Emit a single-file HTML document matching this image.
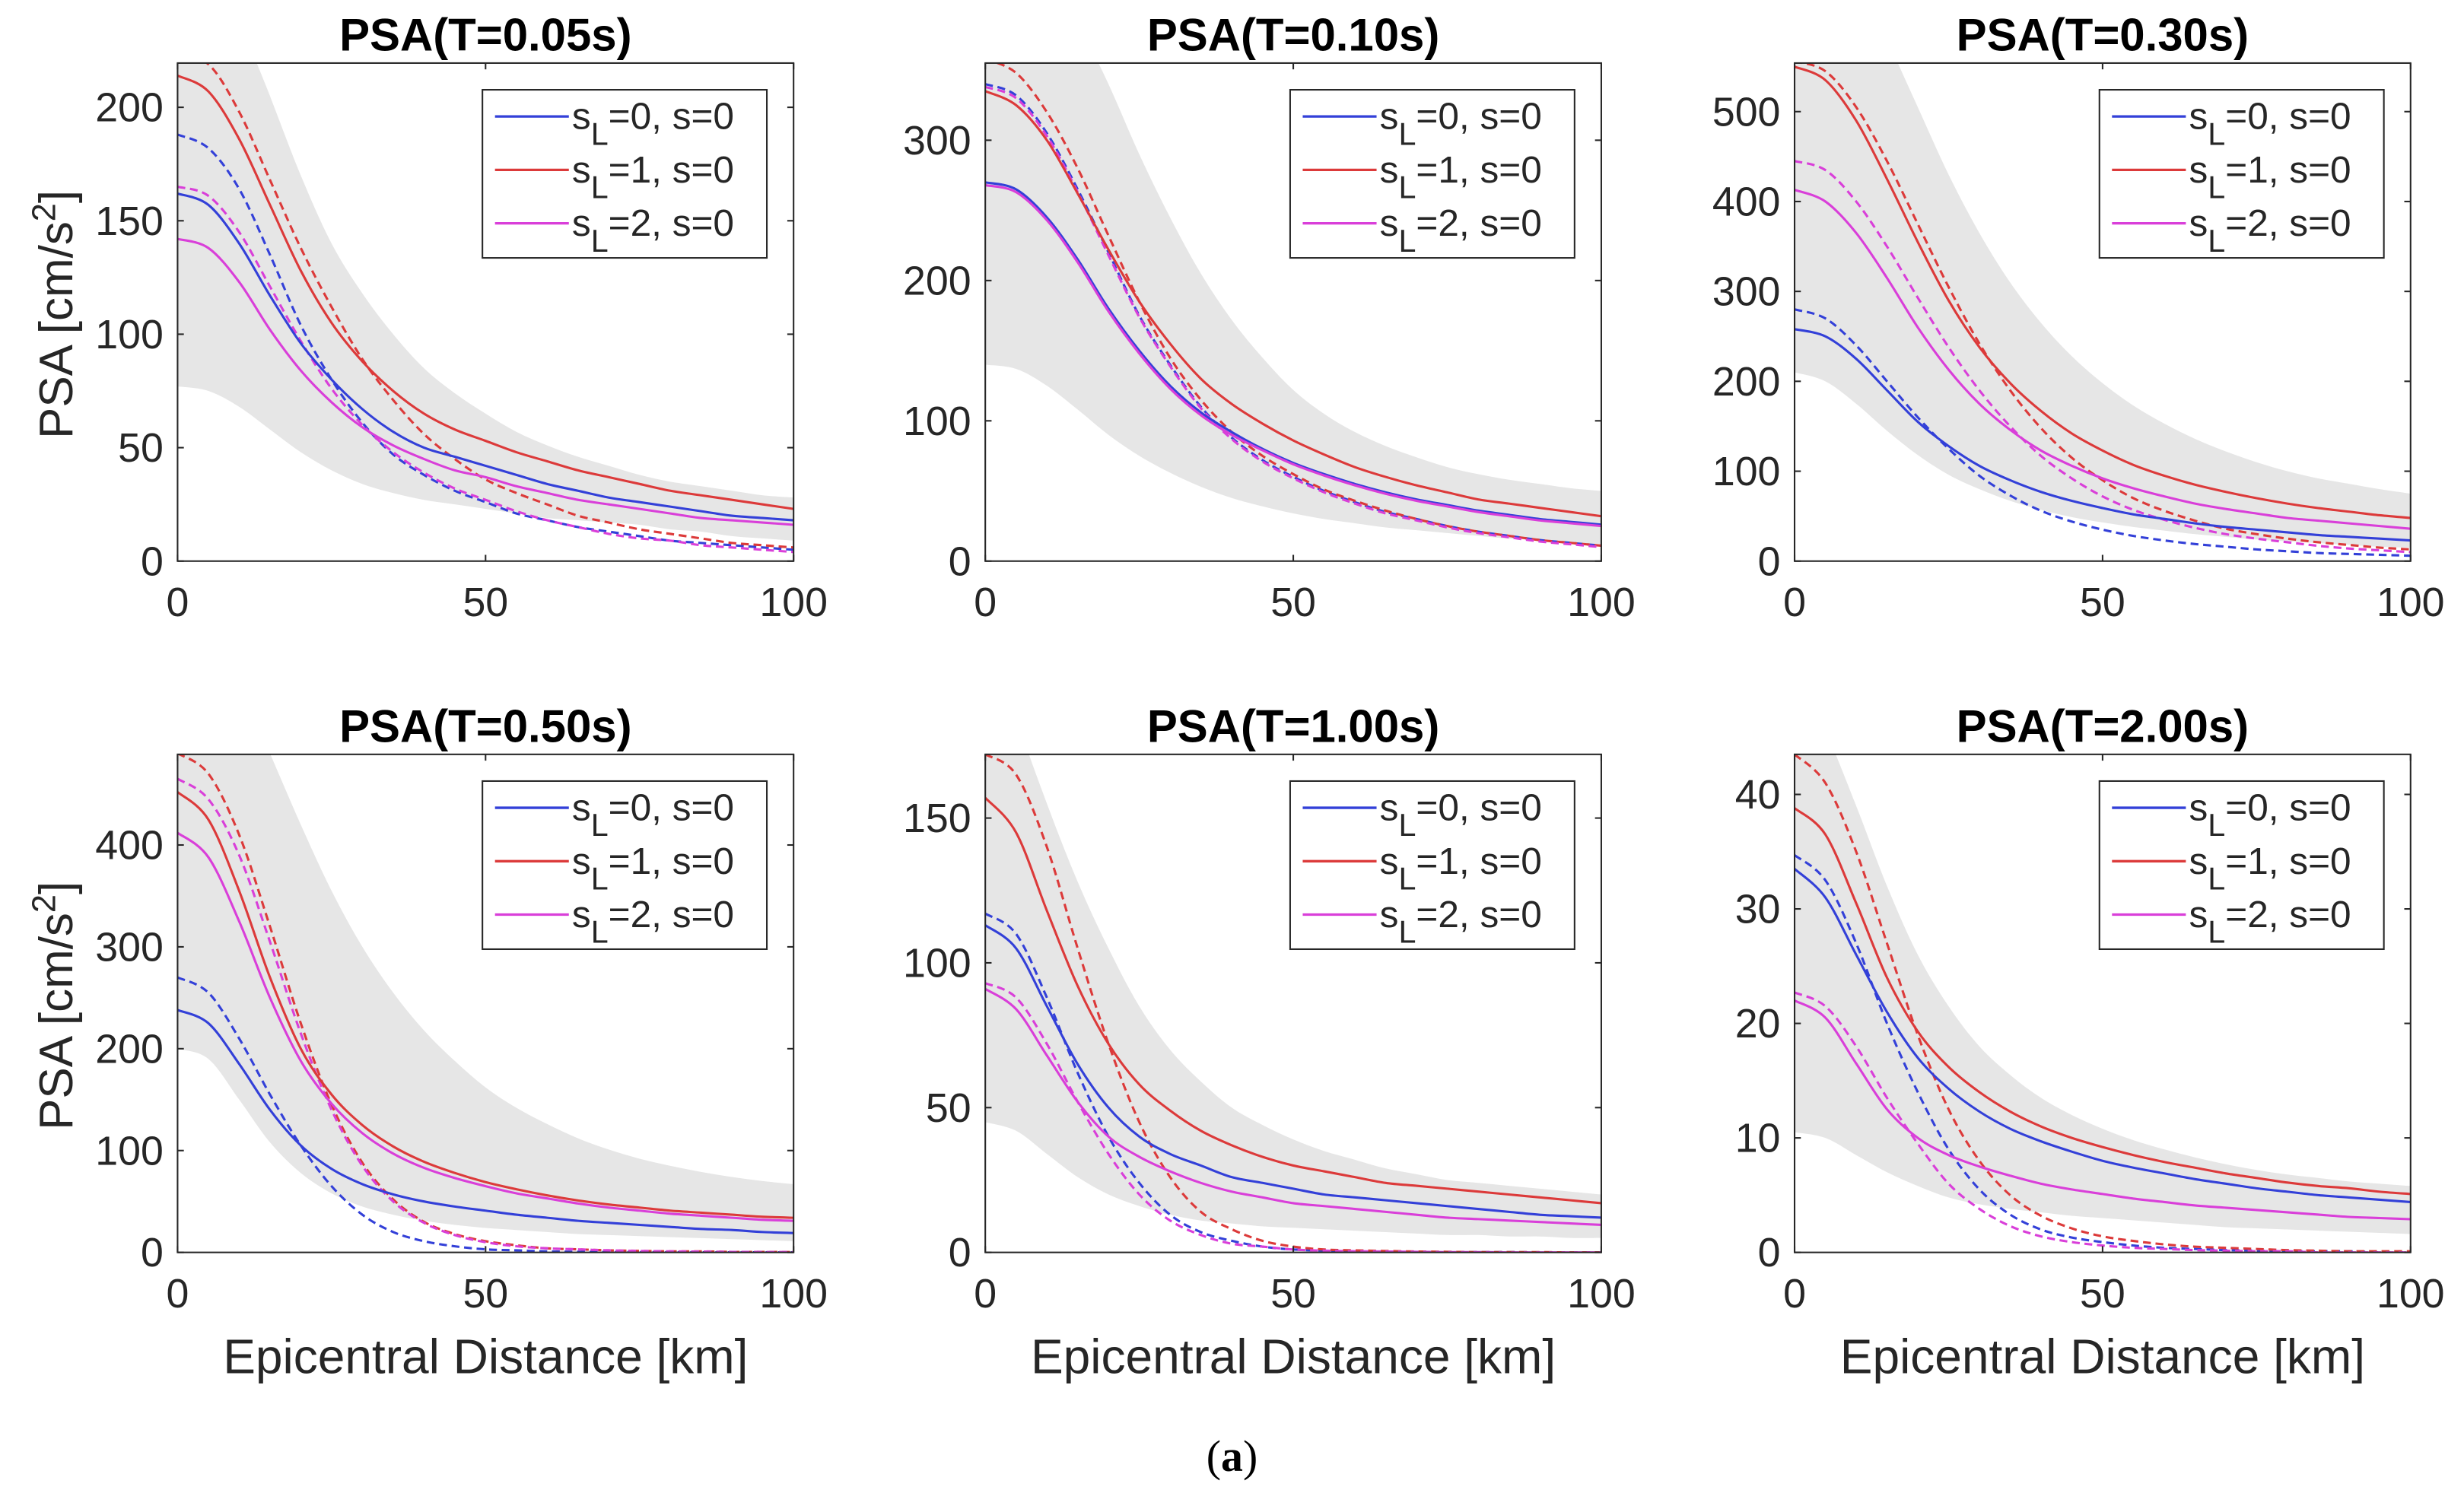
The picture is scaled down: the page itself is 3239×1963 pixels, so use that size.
<!DOCTYPE html>
<html><head><meta charset="utf-8"><style>
html,body{margin:0;padding:0;background:#fff}
svg{display:block}
text{font-family:"Liberation Sans",Arial,sans-serif;fill:#262626}
</style></head><body>
<svg id="fig" width="3239" height="1963" viewBox="0 0 1568 950" xmlns="http://www.w3.org/2000/svg">
<rect width="1568" height="950" fill="#fff"/>
<text x="784" y="936" text-anchor="middle" style="font-family:'Liberation Serif',serif;font-size:28px;fill:#000">(<tspan font-weight="bold">a</tspan>)</text>
</svg>
<script>
const xs = [0,5,10,15,20,25,30,35,40,45,50,55,60,65,70,75,80,85,90,95,100];
const xTicks = [0,50,100];
const titles = ["PSA(T=0.05s)","PSA(T=0.10s)","PSA(T=0.30s)","PSA(T=0.50s)","PSA(T=1.00s)","PSA(T=2.00s)"];
const yMaxes = [219.5,355,554,489,172,43.5];
const yTicks1 = [0,50,100,150,200];
const yTicks2 = [0,100,200,300];
const yTicks3 = [0,100,200,300,400,500];
const yTicks4 = [0,100,200,300,400];
const yTicks5 = [0,50,100,150];
const yTicks6 = [0,10,20,30,40];
const legendLabels = ["=0, s=0","=1, s=0","=2, s=0"];

// Panel 1 T=0.05s
const p1BandUpper = [320,285,240,205,170,140,118,100,85,74,65,57,51,46,42,38,35,33,31,29,28];
const p1BandLower = [77,75,68,58,48,40,34,30,27,25,23,21,19,18,17,16,14,13,11,10,9];
const p1BlueSolid = [162,157,140,117,96,80,67,57,50,46,42,38,34,31,28,26,24,22,20,19,18];
const p1RedSolid = [214,207,186,157,128,105,88,75,65,58,53,48,44,40,37,34,31,29,27,25,23];
const p1MagSolid = [142,138,123,102,84,70,59,51,45,40,37,33,30,27,25,23,21,19,18,17,16];
const p1BlueDash = [188,182,164,135,104,80,61,47,38,31,26,21,18,15,13,11,9,8,7,6,5];
const p1RedDash = [222,219,198,168,138,112,89,71,56,45,36,30,25,20,17,14,12,10,8,7,6];
const p1MagDash = [165,161,145,121,97,76,60,48,39,32,27,22,18,15,12,10,9,7,6,5,4];
// Panel 2 T=0.10s
const p2BandUpper = [520,480,430,385,340,290,245,205,172,145,122,105,92,82,74,67,62,58,55,52,50];
const p2BandLower = [140,137,125,108,90,75,63,53,45,39,34,30,27,24,22,20,18,16,15,13,12];
const p2BlueSolid = [270,265,245,215,180,150,125,106,92,80,70,62,55,49,44,40,36,33,30,28,26];
const p2RedSolid = [335,325,300,262,222,185,155,130,112,98,86,76,67,60,54,49,44,41,38,35,32];
const p2MagSolid = [268,263,243,213,178,148,123,104,90,79,69,61,54,48,43,39,35,32,29,27,25];
const p2BlueDash = [340,332,305,265,220,175,140,110,88,72,60,50,42,35,30,25,21,18,15,13,11];
const p2RedDash = [358,348,320,280,232,185,145,115,92,75,62,51,43,36,30,25,21,18,15,13,11];
const p2MagDash = [338,330,303,263,218,174,139,109,87,71,59,49,41,34,29,24,20,17,14,12,10];
// Panel 3 T=0.30s
const p3BandUpper = [780,720,650,580,505,430,365,310,265,228,198,173,153,136,122,110,100,92,86,80,75];
const p3BandLower = [210,200,175,145,118,96,80,67,57,49,43,38,34,30,27,24,22,20,18,16,15];
const p3BlueSolid = [258,250,225,190,155,128,106,90,77,67,59,52,47,42,38,35,32,29,27,25,23];
const p3RedSolid = [550,535,490,425,355,290,238,198,167,142,123,107,95,85,77,70,64,59,55,51,48];
const p3MagSolid = [413,400,365,315,260,213,175,146,123,106,92,81,72,64,58,53,48,45,42,39,36];
const p3BlueDash = [280,270,240,200,160,125,95,73,56,44,35,28,23,19,16,13,11,9,8,7,6];
const p3RedDash = [556,545,505,445,375,305,242,190,148,115,90,70,56,45,36,30,25,21,18,15,13];
const p3MagDash = [445,435,400,350,293,238,190,150,117,92,72,57,46,37,30,25,21,17,14,12,10];
// Panel 4 T=0.50s
const p4BandUpper = [750,650,560,490,420,355,300,255,218,188,162,142,126,112,101,92,85,79,74,70,67];
const p4BandLower = [200,190,150,108,78,58,45,37,31,27,24,22,20,18,17,16,15,14,13,12,11];
const p4BlueSolid = [238,225,185,140,105,82,67,57,50,45,41,37,34,31,29,27,25,23,22,20,19];
const p4RedSolid = [452,425,355,270,200,155,125,104,89,78,69,62,56,51,47,44,41,39,37,35,34];
const p4MagSolid = [412,388,325,250,188,146,117,97,83,73,65,58,53,48,44,41,38,36,34,32,31];
const p4BlueDash = [270,255,210,155,105,65,37,20,11,6,3,2,1,0.6,0.4,0.3,0.2,0.1,0.1,0.1,0.1];
const p4RedDash = [490,470,410,320,225,145,88,52,30,18,11,7,4,3,2,1.5,1,1,0.5,0.5,0.3];
const p4MagDash = [465,445,390,305,215,140,85,50,29,17,10,6,4,3,2,1.4,1,0.8,0.5,0.4,0.3];
// Panel 5 T=1.00s
const p5BandUpper = [220,185,155,128,105,85,70,59,50,44,39,35,32,29,27,25,24,23,22,21,20];
const p5BandLower = [45,42,34,26,20,16,13,11,10,9,8.5,8,7.5,7,6.5,6,6,5.5,5.5,5,5];
const p5BlueSolid = [113,105,85,65,50,40,34,30,26,24,22,20,19,18,17,16,15,14,13,12.5,12];
const p5RedSolid = [157,145,118,92,72,58,49,42,37,33,30,28,26,24,23,22,21,20,19,18,17];
const p5MagSolid = [91,84,68,52,40,33,28,24,21,19,17,16,15,14,13,12,11.5,11,10.5,10,9.5];
const p5BlueDash = [117,110,88,62,40,24,13,7,4,2,1,0.6,0.4,0.3,0.2,0.1,0.1,0.1,0,0,0];
const p5RedDash = [172,165,140,105,72,45,26,14,8,4,2,1,0.7,0.5,0.3,0.2,0.1,0.1,0.1,0,0];
const p5MagDash = [93,88,72,52,34,20,11,6,3,2,1,0.6,0.4,0.3,0.2,0.1,0.1,0,0,0,0];
// Panel 6 T=2.00s
const p6BandUpper = [50,45.5,39,32,26,21.5,18,15.5,13.5,12,10.8,9.8,9,8.3,7.7,7.2,6.8,6.5,6.2,6,5.8];
const p6BandLower = [10.5,10,8.5,7,5.8,4.8,4.2,3.8,3.5,3.2,3,2.8,2.6,2.4,2.2,2.1,2,1.9,1.8,1.7,1.6];
const p6BlueSolid = [33.5,31,26,21,17,14.3,12.3,10.8,9.7,8.8,8,7.4,6.9,6.4,6,5.6,5.3,5,4.8,4.6,4.4];
const p6RedSolid = [38.8,36.5,30.5,24,19.3,16.2,14,12.3,11,10,9.2,8.5,7.9,7.4,6.9,6.5,6.1,5.8,5.6,5.3,5.1];
const p6MagSolid = [22,20.5,16.5,12.5,10,8.5,7.5,6.7,6,5.5,5.1,4.7,4.4,4.1,3.9,3.7,3.5,3.3,3.1,3,2.9];
const p6BlueDash = [34.7,32.5,27,20,14,9,5.5,3.3,2,1.3,0.9,0.6,0.4,0.3,0.2,0.15,0.1,0.1,0.1,0,0];
const p6RedDash = [43.5,41,35,27,19,12.5,8,5,3.2,2.1,1.4,1,0.7,0.5,0.4,0.3,0.2,0.15,0.1,0.1,0.1];
const p6MagDash = [22.7,21.5,18,13.5,9.5,6,3.8,2.3,1.4,0.9,0.6,0.4,0.3,0.2,0.15,0.1,0.1,0,0,0,0];

const panels = [
 {band:[p1BandUpper,p1BandLower], solid:[p1BlueSolid,p1RedSolid,p1MagSolid], dash:[p1BlueDash,p1RedDash,p1MagDash], ticks:yTicks1},
 {band:[p2BandUpper,p2BandLower], solid:[p2BlueSolid,p2RedSolid,p2MagSolid], dash:[p2BlueDash,p2RedDash,p2MagDash], ticks:yTicks2},
 {band:[p3BandUpper,p3BandLower], solid:[p3BlueSolid,p3RedSolid,p3MagSolid], dash:[p3BlueDash,p3RedDash,p3MagDash], ticks:yTicks3},
 {band:[p4BandUpper,p4BandLower], solid:[p4BlueSolid,p4RedSolid,p4MagSolid], dash:[p4BlueDash,p4RedDash,p4MagDash], ticks:yTicks4},
 {band:[p5BandUpper,p5BandLower], solid:[p5BlueSolid,p5RedSolid,p5MagSolid], dash:[p5BlueDash,p5RedDash,p5MagDash], ticks:yTicks5},
 {band:[p6BandUpper,p6BandLower], solid:[p6BlueSolid,p6RedSolid,p6MagSolid], dash:[p6BlueDash,p6RedDash,p6MagDash], ticks:yTicks6}
];
const colors = ["#3340d8","#dc3a3a","#d93fd9"];
const seriesNames = ["blue","red","magenta"];
const NS = "http://www.w3.org/2000/svg";
const svg = document.getElementById('fig');
function mk(tag, attrs, parent){const e=document.createElementNS(NS,tag);for(const k in attrs)e.setAttribute(k,attrs[k]);(parent||svg).appendChild(e);return e;}
function smooth(pts){
  let d="M"+pts[0][0].toFixed(2)+","+pts[0][1].toFixed(2);
  for(let i=0;i<pts.length-1;i++){
    const p0=pts[Math.max(0,i-1)],p1=pts[i],p2=pts[i+1],p3=pts[Math.min(pts.length-1,i+2)];
    const c1=[p1[0]+(p2[0]-p0[0])/6,p1[1]+(p2[1]-p0[1])/6];
    const c2=[p2[0]-(p3[0]-p1[0])/6,p2[1]-(p3[1]-p1[1])/6];
    d+="C"+c1[0].toFixed(2)+","+c1[1].toFixed(2)+" "+c2[0].toFixed(2)+","+c2[1].toFixed(2)+" "+p2[0].toFixed(2)+","+p2[1].toFixed(2);
  }
  return d;
}
const lefts=[113,627,1142], tops=[40,480], W=392, H=317;
panels.forEach((p,i)=>{
  const L=lefts[i%3], T=tops[Math.floor(i/3)], B=T+H, ymax=yMaxes[i];
  const sx=v=>L+v/100*W, sy=v=>B-v/ymax*H;
  const g=mk('g',{});
  
  
  const cp=mk('clipPath',{id:'clip'+i},g);
  mk('rect',{x:L,y:T,width:W,height:H},cp);
  const plot=mk('g',{'clip-path':'url(#clip'+i+')'},g);
  const up=xs.map((x,k)=>[sx(x),sy(p.band[0][k])]);
  const lo=xs.map((x,k)=>[sx(x),sy(p.band[1][k])]).reverse();
  const bd=smooth(up)+"L"+smooth(lo).slice(1)+"Z";
  const band=mk('path',{d:bd,fill:'#e6e6e6',stroke:'none'},plot);
  
  
  p.dash.forEach((s,j)=>{
    const e=mk('path',{d:smooth(xs.map((x,k)=>[sx(x),sy(s[k])])),fill:'none',stroke:colors[j],'stroke-width':1.5,'stroke-dasharray':'5,3'},plot);
    
    
  });
  p.solid.forEach((s,j)=>{
    const e=mk('path',{d:smooth(xs.map((x,k)=>[sx(x),sy(s[k])])),fill:'none',stroke:colors[j],'stroke-width':1.5},plot);
    
    
  });
  const fr=mk('rect',{x:L,y:T,width:W,height:H,fill:'none',stroke:'#262626','stroke-width':1},g);
  
  
  xTicks.forEach(t=>{
    const x=sx(t);
    mk('line',{x1:x,y1:B,x2:x,y2:B-4,stroke:'#262626'},g);
    mk('line',{x1:x,y1:T,x2:x,y2:T+4,stroke:'#262626'},g);
    const tx=mk('text',{x:x,y:B+35,'text-anchor':'middle','font-size':26},g);
    tx.textContent=t;
    
    
  });
  p.ticks.forEach(t=>{
    const y=sy(t);
    mk('line',{x1:L,y1:y,x2:L+4,y2:y,stroke:'#262626'},g);
    mk('line',{x1:L+W,y1:y,x2:L+W-4,y2:y,stroke:'#262626'},g);
    const tx=mk('text',{x:L-9,y:y+9,'text-anchor':'end','font-size':26},g);
    tx.textContent=t;
    
    
  });
  const ti=mk('text',{x:L+W/2,y:T-8,'text-anchor':'middle','font-size':29,'font-weight':'bold',style:'fill:#000'},g);
  ti.textContent=titles[i];
  
  
  const lg=mk('g',{},g);
  
  
  mk('rect',{x:L+194,y:T+17,width:181,height:107,fill:'#fff',stroke:'#262626','stroke-width':1},lg);
  legendLabels.forEach((lab,j)=>{
    const y=T+34+j*34;
    mk('line',{x1:L+202,y1:y,x2:L+249,y2:y,stroke:colors[j],'stroke-width':1.6},lg);
    const tx=mk('text',{x:L+251,y:y+8,'font-size':24},lg);
    tx.innerHTML='s<tspan dy="10" font-size="20">L</tspan><tspan dy="-10">'+lab+'</tspan>';
    
    
  });
  if(i%3===0){
    const yl=mk('text',{transform:'translate(46,'+(T+160)+') rotate(-90)','text-anchor':'middle','font-size':30},g);
    yl.innerHTML='PSA [cm/s<tspan dy="-11" font-size="21">2</tspan><tspan dy="11">]</tspan>';
    
    
  }
  if(i>=3){
    const xl=mk('text',{x:L+W/2,y:B+77,'text-anchor':'middle','font-size':31},g);
    xl.textContent='Epicentral Distance [km]';
    
    
  }
});
</script>
</body></html>
